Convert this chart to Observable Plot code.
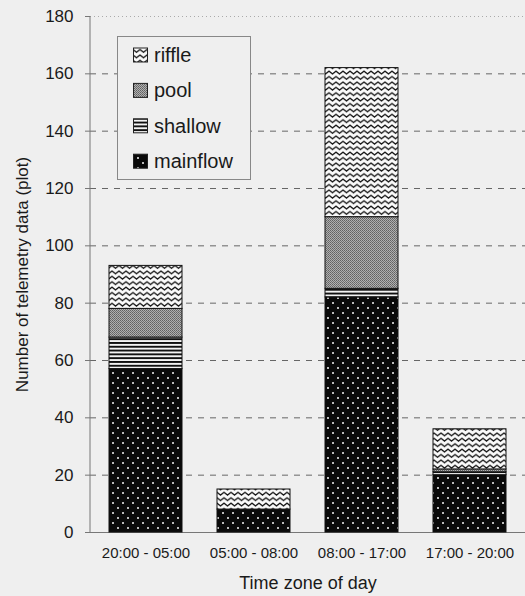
<!DOCTYPE html>
<html>
<head>
<meta charset="utf-8">
<script src="https://cdn.jsdelivr.net/npm/d3@7"></script>
<script src="https://cdn.jsdelivr.net/npm/@observablehq/plot@0.6"></script>
<style>
  html, body { margin: 0; padding: 0; background: #efefef; }
  #chart { width: 525px; height: 596px; }
  svg { font-family: "Liberation Sans", Arial, sans-serif; }
</style>
</head>
<body>
<div id="chart"></div>
<script>
const categories = ["20:00 - 05:00", "05:00 - 08:00", "08:00 - 17:00", "17:00 - 20:00"];
const series = ["mainflow", "shallow", "pool", "riffle"];
const mainflow = [57, 8, 82, 20];
const shallow = [11, 0, 3, 1];
const pool = [10, 0, 25, 1];
const riffle = [15, 7, 52, 14];
const yTicks = [0, 20, 40, 60, 80, 100, 120, 140, 160, 180];
const legendOrder = ["riffle", "pool", "shallow", "mainflow"];

const valuesBySeries = {mainflow, shallow, pool, riffle};
const data = [];
categories.forEach((c, i) => {
  series.forEach(s => data.push({cat: c, series: s, value: valuesBySeries[s][i]}));
});

const plot = Plot.plot({
  width: 525,
  height: 596,
  marginLeft: 90,
  marginRight: 0,
  marginTop: 16,
  marginBottom: 64,
  style: {background: "#efefef", color: "#1a1a1a", fontFamily: "Liberation Sans, Arial, sans-serif", fontSize: "16px"},
  x: {domain: categories, paddingInner: 0.32, paddingOuter: 0.16, label: null},
  y: {domain: [0, 180], label: null},
  color: {domain: series, range: series.map(s => `url(#pat-${s})`)},
  marks: [
    Plot.gridY([180], {stroke: "#aaa", strokeOpacity: 1, strokeDasharray: "1,3"}),
    Plot.gridY(yTicks.filter(d => d > 0 && d < 180), {stroke: "#666", strokeOpacity: 1, strokeDasharray: "6,6"}),
    Plot.ruleY([0], {stroke: "#777"}),
    Plot.barY(data, {x: "cat", y: "value", fill: "series", order: series, stroke: "#111", strokeWidth: 1}),
    Plot.axisY(yTicks, {tickSize: 5, tickPadding: 12, fontSize: 17, stroke: "#777",
      label: "Number of telemetry data (plot)", labelAnchor: "center", labelArrow: "none", labelOffset: 75}),
    Plot.axisX({tickSize: 0, tickPadding: 15, fontSize: 15, label: null}),
    Plot.axisX({ticks: [], tickSize: 0, fontSize: 18, label: "Time zone of day", labelAnchor: "center", labelArrow: "none", labelOffset: 56})
  ]
});

const svg = d3.select(plot);
svg.selectAll('g[aria-label="y-axis tick label"]').attr("font-size", 17);
svg.selectAll('g[aria-label="y-axis label"]').attr("font-size", 17);
svg.selectAll('g[aria-label="x-axis tick label"]').attr("font-size", 15);
svg.selectAll('g[aria-label="x-axis label"]').attr("font-size", 18);

const defs = svg.insert("defs", ":first-child");
// mainflow: black with light dots
let p = defs.append("pattern").attr("id", "pat-mainflow").attr("patternUnits", "userSpaceOnUse").attr("width", 10).attr("height", 10);
p.append("rect").attr("width", 10).attr("height", 10).attr("fill", "#0a0a0a");
p.append("rect").attr("x", 2).attr("y", 2).attr("width", 2).attr("height", 2).attr("fill", "#bbb");
p.append("rect").attr("x", 7).attr("y", 7).attr("width", 2).attr("height", 2).attr("fill", "#bbb");
// shallow: horizontal stripes
p = defs.append("pattern").attr("id", "pat-shallow").attr("patternUnits", "userSpaceOnUse").attr("width", 8).attr("height", 3.8);
p.append("rect").attr("width", 8).attr("height", 3.8).attr("fill", "#f4f4f4");
p.append("rect").attr("y", 0).attr("width", 8).attr("height", 1.9).attr("fill", "#111");
// pool: gray dither
p = defs.append("pattern").attr("id", "pat-pool").attr("patternUnits", "userSpaceOnUse").attr("width", 2).attr("height", 2);
p.append("rect").attr("width", 2).attr("height", 2).attr("fill", "#b0b0b0");
p.append("rect").attr("width", 1).attr("height", 1).attr("fill", "#626262");
p.append("rect").attr("x", 1).attr("y", 1).attr("width", 1).attr("height", 1).attr("fill", "#727272");
// riffle: zigzag waves
p = defs.append("pattern").attr("id", "pat-riffle").attr("patternUnits", "userSpaceOnUse").attr("width", 7).attr("height", 5.4);
p.append("rect").attr("width", 7).attr("height", 5.4).attr("fill", "#fafafa");
p.append("path").attr("d", "M-1,0.5 L0,1 L3.5,3.6 L7,1 L8,0.5").attr("fill", "none").attr("stroke", "#111").attr("stroke-width", 1.3);

// left axis line through the scales
const ys = plot.scale("y");
const xs = plot.scale("x");
const x0 = xs.range[0];
svg.append("line")
  .attr("x1", x0).attr("x2", x0)
  .attr("y1", ys.apply(0)).attr("y2", ys.apply(180))
  .attr("stroke", "#777");

// legend
const lg = svg.append("g").attr("text-anchor", "start");
lg.append("rect").attr("x", 117.5).attr("y", 36.5).attr("width", 133).attr("height", 143)
  .attr("fill", "#efefef").attr("stroke", "#888");
legendOrder.forEach((s, i) => {
  const cy = 55 + i * 35.4;
  lg.append("rect").attr("x", 133.5).attr("y", cy - 7).attr("width", 14).attr("height", 14)
    .attr("fill", `url(#pat-${s})`).attr("stroke", "#222");
  lg.append("text").attr("x", 154).attr("y", cy).attr("dy", "0.35em")
    .attr("font-size", 20).attr("fill", "#1a1a1a").text(s);
});

document.getElementById("chart").appendChild(plot);
</script>
</body>
</html>
